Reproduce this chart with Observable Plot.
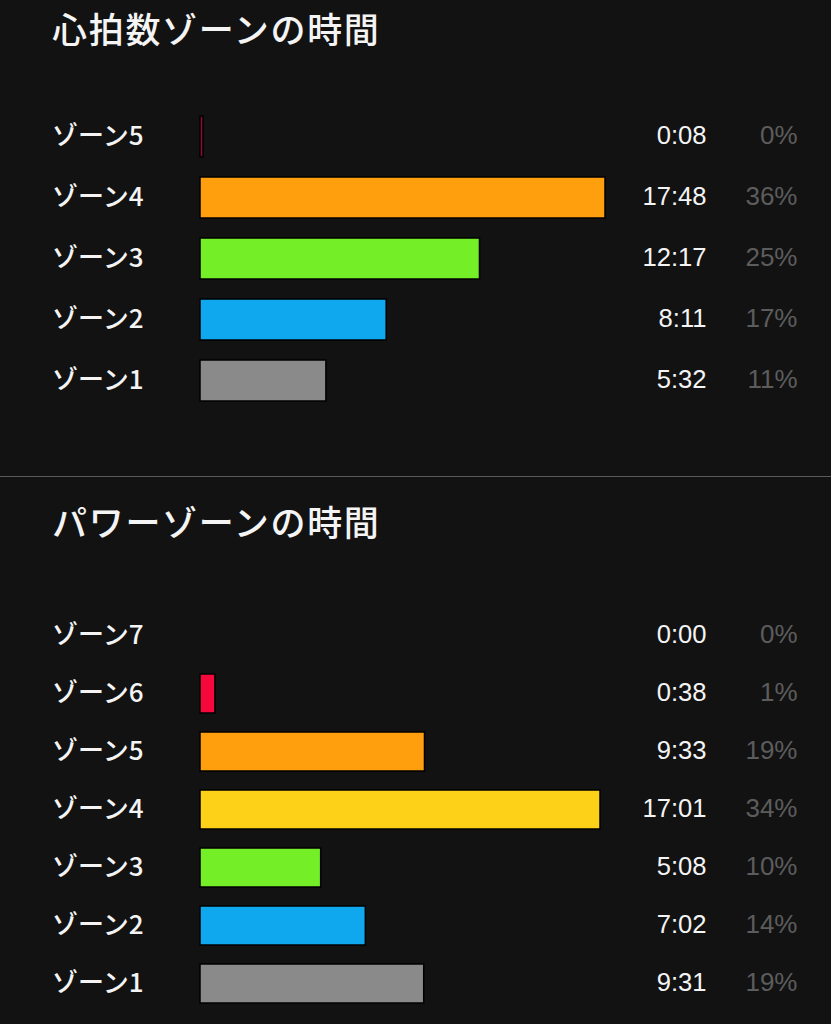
<!DOCTYPE html>
<html lang="ja">
<head>
<meta charset="utf-8">
<script src="https://cdn.jsdelivr.net/npm/d3@7"></script>
<script src="https://cdn.jsdelivr.net/npm/@observablehq/plot@0.6"></script>
<style>
html,body{margin:0;padding:0;background:#121212;overflow:hidden}
.title{color:#f4f4f4;font:500 35px/56px "Noto Sans CJK JP",sans-serif;padding-left:52px;height:56px;padding-bottom:4px;letter-spacing:1.7px;white-space:nowrap}
#t2{padding-top:16px;padding-bottom:4px}
#sep{height:1px;background:#5a5a5a}
svg{display:block}
</style>
</head>
<body>
<div class="title" id="t1">心拍数ゾーンの時間</div>
<div id="p1"></div>
<div id="sep"></div>
<div class="title" id="t2">パワーゾーンの時間</div>
<div id="p2"></div>
<script>
const hrZones = ["ゾーン5","ゾーン4","ゾーン3","ゾーン2","ゾーン1"];
const hrSeconds = [8,1068,737,491,332];
const hrTimes = ["0:08","17:48","12:17","8:11","5:32"];
const hrPercent = ["0%","36%","25%","17%","11%"];
const hrColors = ["#8a0c30","#ff9f0e","#74ee26","#0fa8ee","#8a8a8a"];

const powerZones = ["ゾーン7","ゾーン6","ゾーン5","ゾーン4","ゾーン3","ゾーン2","ゾーン1"];
const powerSeconds = [0,38,573,1021,308,422,571];
const powerTimes = ["0:00","0:38","9:33","17:01","5:08","7:02","9:31"];
const powerPercent = ["0%","1%","19%","34%","10%","14%","19%"];
const powerColors = ["#c00030","#f6083c","#ff9f0e","#fdd117","#74ee26","#0fa8ee","#8a8a8a"];

const jp = '"Noto Sans CJK JP",sans-serif';
const latin = '"Liberation Sans",sans-serif';

function chart({zones, seconds, times, percent, colors, height, yRange, xMax, padding}) {
  const rows = zones.map((zone,i)=>({zone, sec:seconds[i], time:times[i], pct:percent[i]}));
  return Plot.plot({
    width:831, height,
    marginLeft:0, marginRight:0, marginTop:0, marginBottom:0,
    style:{background:"transparent"},
    x:{domain:[0,xMax[0]], range:[200,xMax[1]], axis:null},
    y:{domain:zones, range:yRange, padding, align:0.5, label:null},
    color:{domain:zones, range:colors},
    marks:[
      Plot.axisY({
        anchor:"left", tickSize:0, tickPadding:-143, label:null,
        fill:"#f4f4f4", fontSize:26, fontFamily:jp, fontWeight:500, textAnchor:"end"
      }),
      Plot.barX(rows.filter(d=>d.sec>0),{x:"sec",y:"zone",fill:"zone",stroke:"#000",strokeWidth:1.5}),
      Plot.text(rows,{y:"zone",text:"time",frameAnchor:"right",dx:-125,dy:-1,fill:"#f4f4f4",fontSize:25.6,fontFamily:latin}),
      Plot.text(rows,{y:"zone",text:"pct",frameAnchor:"right",dx:-34,dy:-1,fill:"#5c5c5c",fontSize:26,fontFamily:latin})
    ]
  });
}

document.getElementById("p1").append(chart({
  zones:hrZones, seconds:hrSeconds, times:hrTimes, percent:hrPercent, colors:hrColors,
  height:416, yRange:[35.5,361], xMax:[1068,605], padding:0.33
}));
document.getElementById("p2").append(chart({
  zones:powerZones, seconds:powerSeconds, times:powerTimes, percent:powerPercent, colors:powerColors,
  height:471, yRange:[42.2,470.8], xMax:[1021,600], padding:0.32
}));
</script>
</body>
</html>
